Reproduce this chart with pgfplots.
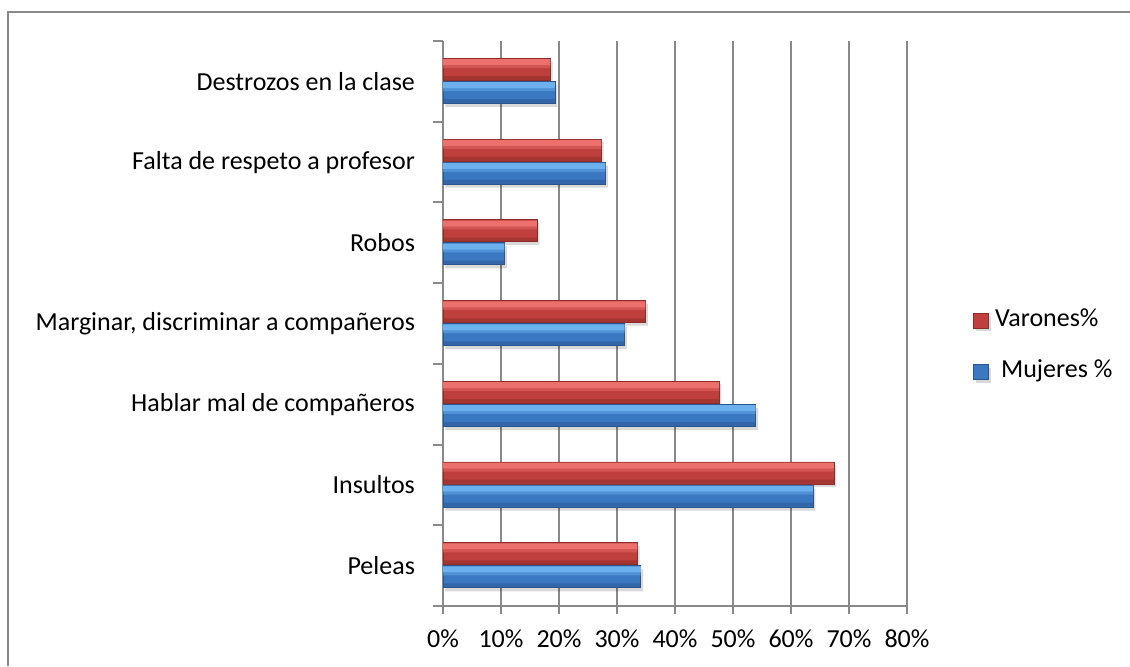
\documentclass[border=0pt]{standalone}
\usepackage{pgfplots}
\pgfplotsset{compat=1.18}
\usepackage{fontspec}
\setmainfont{Carlito}
\definecolor{gridgray}{HTML}{898989}
\definecolor{redtop}{HTML}{EC716D}
\definecolor{redmid}{HTML}{BE3F3B}
\definecolor{redbot}{HTML}{8E2C29}
\definecolor{bluetop}{HTML}{6CB0EE}
\definecolor{bluemid}{HTML}{3B78C2}
\definecolor{bluebot}{HTML}{2A5690}
\pgfplotstableread{
y varones mujeres
0 33.5 34.1
1 67.4 63.8
2 47.6 53.9
3 34.9 31.3
4 16.2 10.6
5 27.3 28.0
6 18.5 19.3
}\datatable
\begin{document}
\begin{tikzpicture}[x=1pt,y=1pt]
\useasboundingbox (0,0) rectangle (565,333);
\draw[gridgray, line width=1pt] (3.75,0) -- (3.75,327) -- (565,327);
\begin{axis}[
  at={(221.5pt,30pt)}, anchor=south west,
  scale only axis,
  width=232pt, height=282.5pt,
  xbar, bar width=11pt,
  xmin=0, xmax=80,
  ymin=-0.5, ymax=6.5,
  axis x line*=bottom, axis y line*=left,
  axis line style={gridgray, line width=1pt},
  xtick={0,10,...,80},
  xticklabels={0\%,10\%,20\%,30\%,40\%,50\%,60\%,70\%,80\%},
  xmajorgrids, major grid style={gridgray, line width=1pt},
  x tick style={gridgray, line width=1pt},
  xtick align=outside, major tick length=4pt,
  ytick={0,...,6},
  yticklabels={Peleas,Insultos,Hablar mal de compañeros,{Marginar, discriminar a compañeros},Robos,Falta de respeto a profesor,Destrozos en la clase},
  minor ytick={-0.5,0.5,...,6.5},
  y tick style={draw=none},
  minor y tick style={draw=gridgray, line width=1pt},
  ytick align=outside,
  minor tick length=5pt,
  tick label style={font=\fontsize{13}{15}\selectfont, text=black},
  yticklabel style={xshift=-6.5pt},
  xticklabel style={yshift=-4.5pt},
  legend style={draw=none, fill=none, at={(1.142,0.46)}, anchor=west,
    font=\fontsize{13}{15}\selectfont, inner sep=0pt, row sep=11.5pt,
    nodes={inner sep=1pt, text height=9pt, text depth=3pt}},
  legend cell align=left,
  legend image code/.code={\fill[#1] (0pt,-3.75pt) rectangle (7.5pt,3.75pt);},
]
\addplot[draw=redbot, line width=0.4pt, fill=redmid, bar shift=6pt,
  preaction={draw=none, fill=black, fill opacity=0.15, transform canvas={xshift=1.2pt, yshift=-1.5pt}}] table[x=varones, y=y] {\datatable};
\addlegendentry{\hspace{2pt}Varones\%}
\addplot[draw=bluebot, line width=0.4pt, fill=bluemid, bar shift=-5.5pt,
  preaction={draw=none, fill=black, fill opacity=0.15, transform canvas={xshift=1.2pt, yshift=-1.8pt}}] table[x=mujeres, y=y] {\datatable};
\addlegendentry{\hspace{5pt}Mujeres \%}
% bevel highlights and shading bands
\addplot[draw=none, fill=redtop, bar width=3pt, bar shift=9.6pt, forget plot] table[x=varones, y=y] {\datatable};
\addplot[draw=none, fill=redtop, opacity=0.45, bar width=1.5pt, bar shift=7.4pt, forget plot] table[x=varones, y=y] {\datatable};
\addplot[draw=none, fill=redbot, opacity=0.5, bar width=2pt, bar shift=1.6pt, forget plot] table[x=varones, y=y] {\datatable};
\addplot[draw=none, fill=bluetop, bar width=3pt, bar shift=-1.9pt, forget plot] table[x=mujeres, y=y] {\datatable};
\addplot[draw=none, fill=bluetop, opacity=0.45, bar width=1.5pt, bar shift=-4.1pt, forget plot] table[x=mujeres, y=y] {\datatable};
\addplot[draw=none, fill=bluebot, opacity=0.5, bar width=2pt, bar shift=-9.9pt, forget plot] table[x=mujeres, y=y] {\datatable};
\end{axis}
\end{tikzpicture}
\end{document}
